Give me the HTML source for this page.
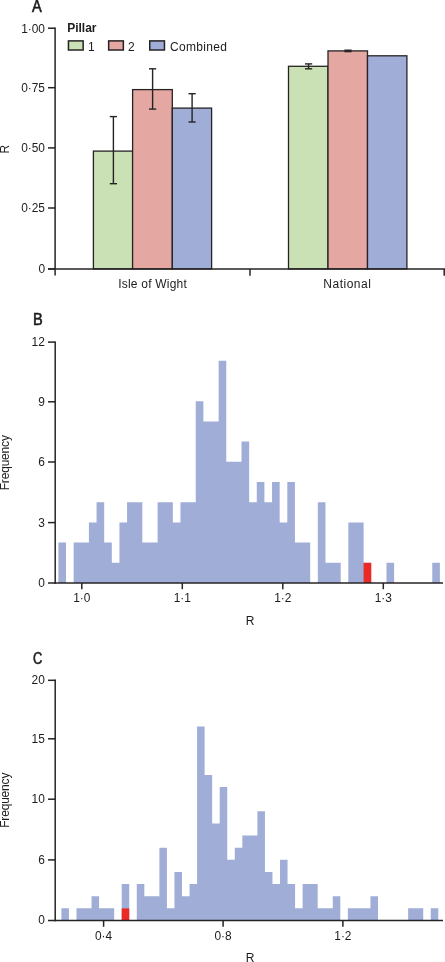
<!DOCTYPE html>
<html><head><meta charset="utf-8"><title>Figure</title>
<style>
html,body{margin:0;padding:0;background:#fff;overflow:hidden;}
svg{display:block;font-family:"Liberation Sans", sans-serif;fill:#1d1b1c;}
</style></head><body>
<svg width="445" height="962" viewBox="0 0 445 962">
<rect width="445" height="962" fill="#ffffff"/>
<text transform="translate(31.9,11.7) scale(0.9,1)" font-size="16.2" stroke="#1a1a1a" stroke-width="0.6">A</text>
<rect x="93.40" y="151.10" width="39.20" height="117.80" fill="#c9e1b5" stroke="#262324" stroke-width="1.3"/>
<rect x="132.60" y="89.60" width="39.70" height="179.30" fill="#e4a7a1" stroke="#262324" stroke-width="1.3"/>
<rect x="172.30" y="108.10" width="39.30" height="160.80" fill="#a0aed7" stroke="#262324" stroke-width="1.3"/>
<rect x="288.50" y="66.30" width="39.50" height="202.60" fill="#c9e1b5" stroke="#262324" stroke-width="1.3"/>
<rect x="328.00" y="50.90" width="39.50" height="218.00" fill="#e4a7a1" stroke="#262324" stroke-width="1.3"/>
<rect x="367.50" y="55.80" width="39.40" height="213.10" fill="#a0aed7" stroke="#262324" stroke-width="1.3"/>
<line x1="113.4" y1="183.7" x2="113.4" y2="116.6" stroke="#262324" stroke-width="1.4"/>
<line x1="109.80000000000001" y1="183.7" x2="117.0" y2="183.7" stroke="#262324" stroke-width="1.4"/>
<line x1="109.80000000000001" y1="116.6" x2="117.0" y2="116.6" stroke="#262324" stroke-width="1.4"/>
<line x1="152.6" y1="109.1" x2="152.6" y2="68.80000000000001" stroke="#262324" stroke-width="1.4"/>
<line x1="149.0" y1="109.1" x2="156.2" y2="109.1" stroke="#262324" stroke-width="1.4"/>
<line x1="149.0" y1="68.80000000000001" x2="156.2" y2="68.80000000000001" stroke="#262324" stroke-width="1.4"/>
<line x1="192.1" y1="122.0" x2="192.1" y2="93.69999999999999" stroke="#262324" stroke-width="1.4"/>
<line x1="188.5" y1="122.0" x2="195.7" y2="122.0" stroke="#262324" stroke-width="1.4"/>
<line x1="188.5" y1="93.69999999999999" x2="195.7" y2="93.69999999999999" stroke="#262324" stroke-width="1.4"/>
<line x1="308.6" y1="68.80000000000001" x2="308.6" y2="63.900000000000006" stroke="#262324" stroke-width="1.4"/>
<line x1="305.0" y1="68.80000000000001" x2="312.20000000000005" y2="68.80000000000001" stroke="#262324" stroke-width="1.4"/>
<line x1="305.0" y1="63.900000000000006" x2="312.20000000000005" y2="63.900000000000006" stroke="#262324" stroke-width="1.4"/>
<line x1="348.0" y1="51.599999999999994" x2="348.0" y2="50.19999999999999" stroke="#262324" stroke-width="1.4"/>
<line x1="344.4" y1="51.599999999999994" x2="351.6" y2="51.599999999999994" stroke="#262324" stroke-width="1.4"/>
<line x1="344.4" y1="50.19999999999999" x2="351.6" y2="50.19999999999999" stroke="#262324" stroke-width="1.4"/>
<line x1="55.1" y1="27.45" x2="55.1" y2="275.6" stroke="#262324" stroke-width="1.5"/>
<line x1="48" y1="268.9" x2="445" y2="268.9" stroke="#262324" stroke-width="1.5"/>
<line x1="48" y1="28.2" x2="55.1" y2="28.2" stroke="#262324" stroke-width="1.5"/>
<text x="45.0" y="32.6" font-size="11.9" text-anchor="end" font-weight="normal" >1·00</text>
<line x1="48" y1="87.7" x2="55.1" y2="87.7" stroke="#262324" stroke-width="1.5"/>
<text x="45.0" y="92.10000000000001" font-size="11.9" text-anchor="end" font-weight="normal" >0·75</text>
<line x1="48" y1="147.9" x2="55.1" y2="147.9" stroke="#262324" stroke-width="1.5"/>
<text x="45.0" y="152.3" font-size="11.9" text-anchor="end" font-weight="normal" >0·50</text>
<line x1="48" y1="208.0" x2="55.1" y2="208.0" stroke="#262324" stroke-width="1.5"/>
<text x="45.0" y="212.4" font-size="11.9" text-anchor="end" font-weight="normal" >0·25</text>
<line x1="48" y1="268.9" x2="55.1" y2="268.9" stroke="#262324" stroke-width="1.5"/>
<text x="45.0" y="273.29999999999995" font-size="11.9" text-anchor="end" font-weight="normal" >0</text>
<line x1="250" y1="268.9" x2="250" y2="275.8" stroke="#262324" stroke-width="1.5"/>
<line x1="444.2" y1="268.9" x2="444.2" y2="275.8" stroke="#262324" stroke-width="1.5"/>
<text x="152.5" y="288.3" font-size="12" text-anchor="middle" font-weight="normal"  textLength="68.6" lengthAdjust="spacing">Isle of Wight</text>
<text x="347.1" y="288.3" font-size="12" text-anchor="middle" font-weight="normal"  textLength="47.5" lengthAdjust="spacing">National</text>
<text transform="translate(9.1,149.2) rotate(-90)" font-size="12" text-anchor="middle">R</text>
<text x="67.2" y="31.8" font-size="12" text-anchor="start" font-weight="bold" >Pillar</text>
<rect x="68.45" y="40.90" width="14.70" height="9.10" fill="#c9e1b5" stroke="#262324" stroke-width="1.5"/>
<text x="88" y="50.6" font-size="12" text-anchor="start" font-weight="normal" >1</text>
<rect x="108.65" y="40.90" width="14.70" height="9.10" fill="#e4a7a1" stroke="#262324" stroke-width="1.5"/>
<text x="128.1" y="50.6" font-size="12" text-anchor="start" font-weight="normal" >2</text>
<rect x="149.75" y="40.90" width="14.70" height="9.10" fill="#a0aed7" stroke="#262324" stroke-width="1.5"/>
<text x="169.9" y="50.6" font-size="12" text-anchor="start" font-weight="normal"  textLength="57.0" lengthAdjust="spacing">Combined</text>
<text transform="translate(33.1,325.3) scale(0.9,1)" font-size="16.2" stroke="#1a1a1a" stroke-width="0.6">B</text>
<path d="M58.40 583.00V542.60H66.03V583.00H73.66V542.60H81.29V542.60H88.92V522.40H96.55V502.20H104.18V542.60H111.81V562.80H119.44V522.40H127.07V502.20H134.70V502.20H142.33V542.60H149.96V542.60H157.59V502.20H165.22V502.20H172.85V522.40H180.48V502.20H188.11V502.20H195.74V401.20H203.37V421.40H211.00V421.40H218.63V360.80H226.26V461.80H233.89V461.80H241.52V441.60H249.15V502.20H256.78V482.00H264.41V502.20H272.04V482.00H279.67V522.40H287.30V482.00H294.93V542.60H302.56V542.60H310.19V583.00H317.82V502.20H325.45V562.80H333.08V562.80H340.71V583.00H348.34V522.40H355.97V522.40H363.60V562.80H371.23V583.00H378.86V583.00H386.49V562.80H394.12V583.00H401.75V583.00H409.38V583.00H417.01V583.00H424.64V583.00H432.27V562.80H439.90V583.00Z" fill="#a0aed7"/>
<rect x="363.60" y="562.80" width="7.63" height="20.20" fill="#ec2a25"/>
<line x1="55.2" y1="341.4" x2="55.2" y2="583.7" stroke="#262324" stroke-width="1.5"/>
<line x1="54.4" y1="583.0" x2="443" y2="583.0" stroke="#262324" stroke-width="1.5"/>
<line x1="48" y1="583.0" x2="55.2" y2="583.0" stroke="#262324" stroke-width="1.5"/>
<text x="44.8" y="586.9" font-size="11.9" text-anchor="end" font-weight="normal" >0</text>
<line x1="48" y1="522.6" x2="55.2" y2="522.6" stroke="#262324" stroke-width="1.5"/>
<text x="44.8" y="526.5" font-size="11.9" text-anchor="end" font-weight="normal" >3</text>
<line x1="48" y1="462.0" x2="55.2" y2="462.0" stroke="#262324" stroke-width="1.5"/>
<text x="44.8" y="465.9" font-size="11.9" text-anchor="end" font-weight="normal" >6</text>
<line x1="48" y1="401.8" x2="55.2" y2="401.8" stroke="#262324" stroke-width="1.5"/>
<text x="44.8" y="405.7" font-size="11.9" text-anchor="end" font-weight="normal" >9</text>
<line x1="48" y1="342.1" x2="55.2" y2="342.1" stroke="#262324" stroke-width="1.5"/>
<text x="44.8" y="346.0" font-size="11.9" text-anchor="end" font-weight="normal" >12</text>
<line x1="81.8" y1="583.0" x2="81.8" y2="589.2" stroke="#262324" stroke-width="1.5"/>
<text x="81.8" y="602.3" font-size="11.9" text-anchor="middle" font-weight="normal" >1·0</text>
<line x1="182.3" y1="583.0" x2="182.3" y2="589.2" stroke="#262324" stroke-width="1.5"/>
<text x="182.3" y="602.3" font-size="11.9" text-anchor="middle" font-weight="normal" >1·1</text>
<line x1="282.8" y1="583.0" x2="282.8" y2="589.2" stroke="#262324" stroke-width="1.5"/>
<text x="282.8" y="602.3" font-size="11.9" text-anchor="middle" font-weight="normal" >1·2</text>
<line x1="383.3" y1="583.0" x2="383.3" y2="589.2" stroke="#262324" stroke-width="1.5"/>
<text x="383.3" y="602.3" font-size="11.9" text-anchor="middle" font-weight="normal" >1·3</text>
<text x="250.1" y="625.1" font-size="12" text-anchor="middle" font-weight="normal" >R</text>
<text transform="translate(9.2,462.7) rotate(-90)" font-size="12" textLength="55.2" lengthAdjust="spacing" text-anchor="middle">Frequency</text>
<text transform="translate(33.0,663.5) scale(0.79,1)" font-size="16.2" stroke="#1a1a1a" stroke-width="0.6">C</text>
<path d="M61.40 920.50V908.37H68.94V920.50H76.48V908.37H84.01V908.37H91.55V896.24H99.09V908.37H106.63V908.37H114.17V920.50H121.70V884.11H129.24V920.50H136.78V884.11H144.32V896.24H151.86V896.24H159.39V847.72H166.93V908.37H174.47V871.98H182.01V896.24H189.55V884.11H197.08V726.42H204.62V774.94H212.16V823.46H219.70V787.07H227.24V859.85H234.77V847.72H242.31V835.59H249.85V835.59H257.39V811.33H264.93V871.98H272.46V884.11H280.00V859.85H287.54V884.11H295.08V908.37H302.62V884.11H310.15V884.11H317.69V908.37H325.23V908.37H332.77V896.24H340.31V920.50H347.84V908.37H355.38V908.37H362.92V908.37H370.46V896.24H378.00V920.50H385.53V920.50H393.07V920.50H400.61V920.50H408.15V908.37H415.69V908.37H423.22V920.50H430.76V908.37H438.30V920.50Z" fill="#a0aed7"/>
<rect x="121.70" y="908.37" width="7.54" height="12.13" fill="#ec2a25"/>
<line x1="55.2" y1="679.6" x2="55.2" y2="921.2" stroke="#262324" stroke-width="1.5"/>
<line x1="54.4" y1="920.5" x2="443" y2="920.5" stroke="#262324" stroke-width="1.5"/>
<line x1="48" y1="920.5" x2="55.2" y2="920.5" stroke="#262324" stroke-width="1.5"/>
<text x="44.8" y="924.4" font-size="11.9" text-anchor="end" font-weight="normal" >0</text>
<line x1="48" y1="859.9" x2="55.2" y2="859.9" stroke="#262324" stroke-width="1.5"/>
<text x="44.8" y="863.8" font-size="11.9" text-anchor="end" font-weight="normal" >6</text>
<line x1="48" y1="799.2" x2="55.2" y2="799.2" stroke="#262324" stroke-width="1.5"/>
<text x="44.8" y="803.1" font-size="11.9" text-anchor="end" font-weight="normal" >10</text>
<line x1="48" y1="738.8" x2="55.2" y2="738.8" stroke="#262324" stroke-width="1.5"/>
<text x="44.8" y="742.6999999999999" font-size="11.9" text-anchor="end" font-weight="normal" >15</text>
<line x1="48" y1="680.3" x2="55.2" y2="680.3" stroke="#262324" stroke-width="1.5"/>
<text x="44.8" y="684.1999999999999" font-size="11.9" text-anchor="end" font-weight="normal" >20</text>
<line x1="103.6" y1="920.5" x2="103.6" y2="926.8" stroke="#262324" stroke-width="1.5"/>
<text x="103.6" y="939.8" font-size="11.9" text-anchor="middle" font-weight="normal" >0·4</text>
<line x1="223.1" y1="920.5" x2="223.1" y2="926.8" stroke="#262324" stroke-width="1.5"/>
<text x="223.1" y="939.8" font-size="11.9" text-anchor="middle" font-weight="normal" >0·8</text>
<line x1="342.9" y1="920.5" x2="342.9" y2="926.8" stroke="#262324" stroke-width="1.5"/>
<text x="342.9" y="939.8" font-size="11.9" text-anchor="middle" font-weight="normal" >1·2</text>
<text x="250" y="961.7" font-size="12" text-anchor="middle" font-weight="normal" >R</text>
<text transform="translate(9.2,800.2) rotate(-90)" font-size="12" textLength="55.2" lengthAdjust="spacing" text-anchor="middle">Frequency</text>
</svg>
</body></html>
